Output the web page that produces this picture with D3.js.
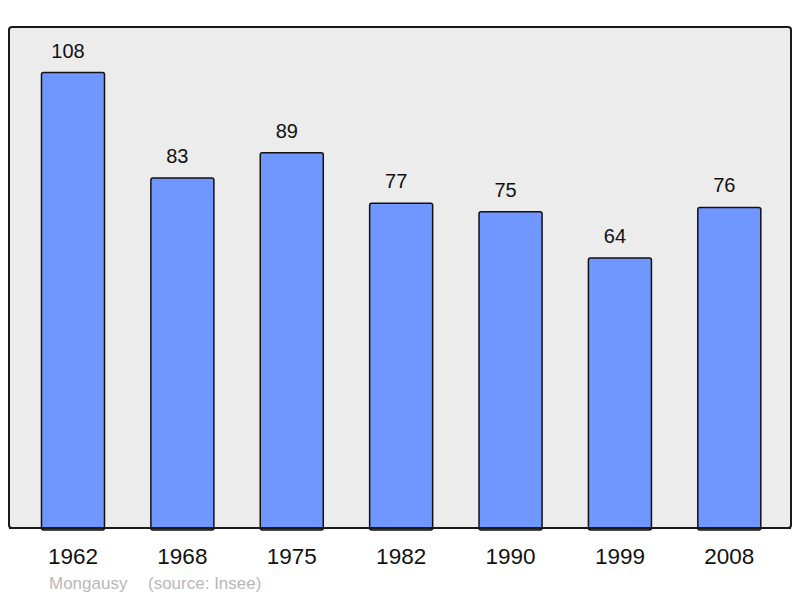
<!DOCTYPE html>
<html>
<head>
<meta charset="utf-8">
<script src="https://cdn.jsdelivr.net/npm/d3@7"></script>
<style>
  body { margin: 0; background: #fff; }
  text { font-family: "Liberation Sans", Arial, sans-serif; }
</style>
</head>
<body>
<div id="chart"></div>
<script>
// data
var years = ["1962", "1968", "1975", "1982", "1990", "1999", "2008"];
var population = [108, 83, 89, 77, 75, 64, 76];
var place = "Mongausy";
var source = "(source: Insee)";

var width = 800, height = 598;
var frame = {left: 9, top: 27, right: 791, bottom: 528};

var svg = d3.select("#chart")
  .append("svg")
  .attr("width", width)
  .attr("height", height);

// background frame
svg.append("rect")
  .attr("x", frame.left)
  .attr("y", frame.top)
  .attr("width", frame.right - frame.left)
  .attr("height", frame.bottom - frame.top)
  .attr("rx", 3)
  .attr("fill", "#ececec")
  .attr("stroke", "#1a1a1a")
  .attr("stroke-width", 2);

var x = d3.scaleBand()
  .domain(years)
  .range([18.3, 784])
  .paddingInner(0.424)
  .paddingOuter(0.212);

var y = d3.scaleLinear()
  .domain([0, d3.max(population) * 1.1])
  .range([frame.bottom, frame.top]);

var data = years.map(function(yr, i) { return {year: yr, value: population[i]}; });

// bars
svg.selectAll(".bar")
  .data(data)
  .enter()
  .append("rect")
    .attr("class", "bar")
    .attr("x", function(d) { return x(d.year); })
    .attr("y", function(d) { return y(d.value); })
    .attr("width", x.bandwidth())
    .attr("height", function(d) { return frame.bottom - y(d.value) + 2; })
    .attr("rx", 2)
    .attr("fill", "#7097ff")
    .attr("stroke", "#111")
    .attr("stroke-width", 1.5);

// redraw bottom edge of frame over the bars
svg.append("line")
  .attr("x1", frame.left)
  .attr("x2", frame.right)
  .attr("y1", frame.bottom)
  .attr("y2", frame.bottom)
  .attr("stroke", "#1a1a1a")
  .attr("stroke-width", 2);

// value labels (sit a little left of the bar centre, as in the original)
svg.selectAll(".val")
  .data(data)
  .enter()
  .append("text")
    .attr("class", "val")
    .attr("x", function(d) { return x(d.year) + x.bandwidth() / 2 - 5; })
    .attr("y", function(d) { return y(d.value) - 15; })
    .attr("text-anchor", "middle")
    .style("font-size", "20px")
    .attr("fill", "#111")
    .text(function(d) { return d.value; });

// x axis labels
var xAxis = svg.append("g")
  .attr("transform", "translate(0," + frame.bottom + ")")
  .call(d3.axisBottom(x).tickSize(0).tickPadding(0));
xAxis.select(".domain").remove();
xAxis.selectAll("text")
  .attr("dy", null)
  .attr("y", 36)
  .style("font-family", "'Liberation Sans', Arial, sans-serif")
  .style("font-size", "22.5px")
  .attr("fill", "#111");

// footer
svg.append("text")
  .attr("x", 49)
  .attr("y", 589)
  .style("font-size", "17px")
  .attr("fill", "#b8b8b8")
  .text(place);

svg.append("text")
  .attr("x", 148)
  .attr("y", 589)
  .style("font-size", "17px")
  .attr("fill", "#b8b8b8")
  .text(source);
</script>
</body>
</html>
